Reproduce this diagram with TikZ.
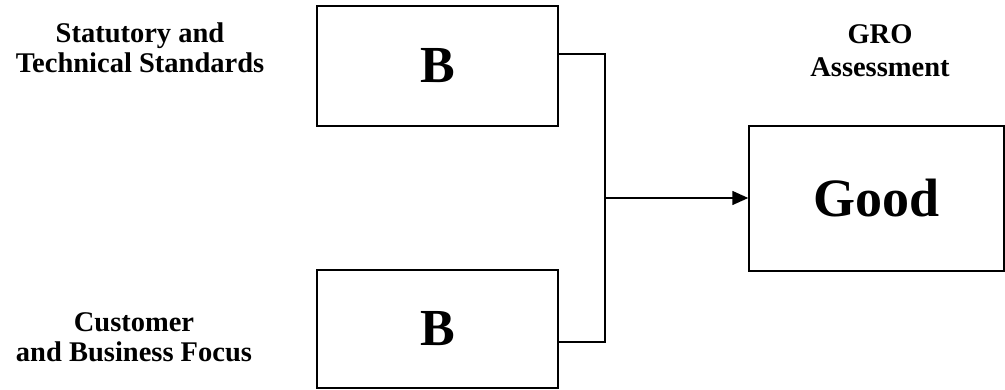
\documentclass[tikz,border=0pt]{standalone}
\usepackage{fontspec}
\setmainfont{Liberation Serif}
\usetikzlibrary{arrows.meta,calc}
\begin{document}
\begin{tikzpicture}[x=1pt,y=-1pt,
  box/.style={draw=black,line width=1.4pt,rectangle,inner sep=0pt,font=\bfseries\fontsize{52}{56}\selectfont},
  lab/.style={align=center,inner sep=0pt,anchor=base,font=\bfseries\fontsize{28.5}{30}\selectfont},
  conn/.style={draw=black,line width=1.4pt}]
\useasboundingbox (0,0) rectangle (1005,390);
\node[box,minimum width=241pt,minimum height=120pt] (b1) at (437.5,66) {B};
\node[box,minimum width=241pt,minimum height=118pt] (b2) at (437.5,329) {B};
\node[box,minimum width=255pt,minimum height=145pt,font=\bfseries\fontsize{54}{58}\selectfont] (good) at (876.5,198.5) {Good};
\coordinate (j) at (605,198);
\node[lab] (l1) at (140,73) {Statutory and\\Technical Standards};
\node[lab,font=\bfseries\fontsize{28.5}{29}\selectfont] (l2) at (134,361) {Customer\\and Business Focus};
\node[lab,font=\bfseries\fontsize{28.5}{33}\selectfont] (l3) at (880,77) {GRO\\Assessment};
\draw[conn] ($(b1.east)+(0,12pt)$) -| (j);
\draw[conn] ($(b2.east)+(0,-13pt)$) -| (j);
\draw[conn,-{Triangle[length=16pt,width=14pt]}] (j) -- (good.west |- j);
\end{tikzpicture}
\end{document}
